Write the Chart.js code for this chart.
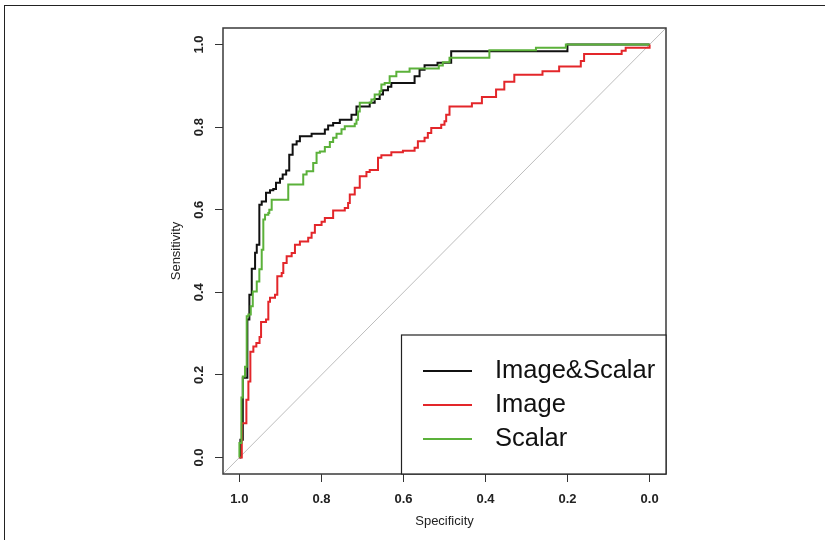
<!DOCTYPE html>
<html>
<head>
<meta charset="utf-8">
<script src="https://cdn.jsdelivr.net/npm/chart.js@4.4.1/dist/chart.umd.min.js"></script>
<style>
  html, body { margin: 0; padding: 0; background: #fff; }
  #frame { position: absolute; left: 4px; top: 5px; width: 830px; height: 545px;
           border-left: 1.5px solid #222; border-top: 1.5px solid #222; }
  #wrap { position: absolute; left: 0; top: 0; width: 825px; height: 540px; }
</style>
</head>
<body>
<div id="frame"></div>
<div id="wrap"><canvas id="roc" width="825" height="540"></canvas></div>
<script>
// ROC curves: specificity (x, reversed) vs sensitivity (y)
const seriesNames = ['Image&Scalar', 'Image', 'Scalar']
const seriesColors = ['#111111', '#e3262a', '#5bb13a']

const specBoth = [1.0, 0.9976, 0.9917, 0.9806, 0.9757, 0.9699, 0.9618, 0.9577, 0.9514, 0.9456,
  0.9351, 0.9254, 0.9174, 0.9108, 0.9011, 0.8945, 0.8860, 0.8785, 0.8702, 0.8605,
  0.8525, 0.8240, 0.7917, 0.7837, 0.7715, 0.7552, 0.7268, 0.7146, 0.6823, 0.6702,
  0.6580, 0.6500, 0.6378, 0.6296, 0.5729, 0.5608, 0.5486, 0.5170, 0.4837, 0.2003, 0]
const sensBoth = [0, 0.043, 0.193, 0.334, 0.394, 0.457, 0.496, 0.515, 0.612, 0.620,
  0.641, 0.647, 0.650, 0.665, 0.675, 0.685, 0.695, 0.733, 0.758, 0.766,
  0.778, 0.784, 0.794, 0.804, 0.810, 0.818, 0.830, 0.850, 0.859, 0.868,
  0.879, 0.889, 0.898, 0.907, 0.923, 0.939, 0.950, 0.956, 0.984, 1.0, 1.0]

const specImage = [1.0, 0.9942, 0.9830, 0.9781, 0.9733, 0.9660, 0.9587, 0.9509, 0.9472, 0.9351,
  0.9295, 0.9254, 0.9132, 0.9076, 0.8969, 0.8930, 0.8848, 0.8726, 0.8646, 0.8525,
  0.8323, 0.8240, 0.8160, 0.7997, 0.7917, 0.7715, 0.7431, 0.7350, 0.7309, 0.7188,
  0.7066, 0.6903, 0.6823, 0.6621, 0.6539, 0.6296, 0.6014, 0.5729, 0.5649, 0.5486,
  0.5406, 0.5323, 0.5080, 0.5000, 0.4959, 0.4878, 0.4332, 0.4088, 0.3743, 0.3542,
  0.3298, 0.2611, 0.2205, 0.1677, 0.1597, 0.0681, 0.0583, 0]
const sensImage = [0, 0.083, 0.140, 0.184, 0.256, 0.269, 0.277, 0.292, 0.328, 0.334,
  0.377, 0.387, 0.394, 0.439, 0.447, 0.471, 0.487, 0.495, 0.515, 0.523,
  0.532, 0.544, 0.563, 0.571, 0.580, 0.598, 0.604, 0.616, 0.637, 0.653,
  0.681, 0.691, 0.696, 0.726, 0.732, 0.739, 0.743, 0.750, 0.766, 0.774,
  0.786, 0.798, 0.806, 0.814, 0.830, 0.850, 0.858, 0.873, 0.891, 0.910,
  0.927, 0.935, 0.947, 0.960, 0.977, 0.985, 0.992, 1.0]

const specScalar = [1.0, 1.0, 0.9951, 0.9917, 0.9863, 0.9822, 0.9781, 0.9723, 0.9674, 0.9577,
  0.9514, 0.9456, 0.9417, 0.9375, 0.9295, 0.9271, 0.9213, 0.8809, 0.8444, 0.8362,
  0.8201, 0.8119, 0.8038, 0.7917, 0.7795, 0.7715, 0.7632, 0.7511, 0.7431, 0.7188,
  0.7146, 0.7107, 0.7066, 0.6782, 0.6702, 0.6580, 0.6539, 0.6458, 0.6337, 0.6174,
  0.5851, 0.5139, 0.5041, 0.4878, 0.3906, 0.2771, 0.2042, 0]
const sensScalar = [0, 0.035, 0.145, 0.196, 0.220, 0.342, 0.346, 0.366, 0.402, 0.426,
  0.456, 0.503, 0.576, 0.588, 0.592, 0.600, 0.624, 0.661, 0.685, 0.693,
  0.713, 0.738, 0.741, 0.752, 0.764, 0.774, 0.784, 0.795, 0.802, 0.808,
  0.818, 0.838, 0.859, 0.867, 0.879, 0.887, 0.903, 0.907, 0.923, 0.934,
  0.942, 0.949, 0.957, 0.968, 0.986, 0.992, 1.0, 1.0]

const tickValues = [0, 0.2, 0.4, 0.6, 0.8, 1.0]
const axisMin = -0.04, axisMax = 1.04

const toPoints = (xs, ys) => xs.map((x, i) => ({ x: x, y: ys[i] }))
const fixTicks = axis => { axis.ticks = tickValues.map(v => ({ value: v })) }
const FONT = 'Liberation Sans, Arial, Helvetica, sans-serif'

const curve = (i, xs, ys, order) => ({
  label: seriesNames[i],
  data: toPoints(xs, ys),
  borderColor: seriesColors[i],
  borderWidth: 2,
  stepped: 'before',
  showLine: true,
  pointRadius: 0,
  order: order
})

// box round the plot region + legend in the lower right corner
const rPlot = {
  id: 'rPlot',
  afterDatasetsDraw(chart) {
    const { ctx, chartArea: a } = chart
    ctx.save()
    ctx.strokeStyle = '#3a3a3a'
    ctx.lineWidth = 1.5
    ctx.strokeRect(a.left, a.top, a.right - a.left, a.bottom - a.top)

    const lx = 401.5, ly = 335
    ctx.fillStyle = '#fff'
    ctx.fillRect(lx, ly, a.right - lx, a.bottom - ly)
    ctx.lineWidth = 1.2
    ctx.strokeStyle = '#222'
    ctx.strokeRect(lx, ly, a.right - lx, a.bottom - ly)
    ctx.font = '25.5px ' + FONT
    ctx.textBaseline = 'middle'
    ctx.textAlign = 'left'
    seriesNames.forEach((name, i) => {
      const y = 371 + i * 34
      ctx.strokeStyle = seriesColors[i]
      ctx.lineWidth = 2
      ctx.beginPath()
      ctx.moveTo(423, y)
      ctx.lineTo(472, y)
      ctx.stroke()
      ctx.fillStyle = '#111'
      ctx.fillText(name, 495, y)
    })
    ctx.restore()
  }
}

new Chart(document.getElementById('roc'), {
  type: 'scatter',
  data: {
    datasets: [
      {
        label: 'chance',
        data: [{ x: axisMax, y: 1 - axisMax }, { x: axisMin, y: 1 - axisMin }],
        borderColor: '#bdbdbd',
        borderWidth: 1,
        showLine: true,
        pointRadius: 0,
        order: 4
      },
      curve(0, specBoth, sensBoth, 3),
      curve(1, specImage, sensImage, 2),
      curve(2, specScalar, sensScalar, 1)
    ]
  },
  options: {
    responsive: false,
    animation: false,
    layout: { padding: { left: 0, right: 159, top: 28, bottom: 0 } },
    plugins: { legend: { display: false }, tooltip: { enabled: false } },
    scales: {
      x: {
        type: 'linear',
        reverse: true,
        min: axisMin,
        max: axisMax,
        afterBuildTicks: fixTicks,
        afterFit: axis => { axis.height = 66 },
        border: { display: false },
        grid: { drawOnChartArea: false, drawTicks: true, tickLength: 8, color: '#333' },
        ticks: {
          autoSkip: false, maxRotation: 0, padding: 10, color: '#222',
          font: { family: FONT, size: 13, weight: 'bold' },
          callback: v => v.toFixed(1)
        },
        title: {
          display: true, text: 'Specificity', color: '#222',
          font: { family: FONT, size: 13 },
          padding: { top: 0, bottom: 10.5 }
        }
      },
      y: {
        type: 'linear',
        min: axisMin,
        max: axisMax,
        afterBuildTicks: fixTicks,
        afterFit: axis => { axis.width = 223 },
        border: { display: false },
        grid: { drawOnChartArea: false, drawTicks: true, tickLength: 8, color: '#333' },
        ticks: {
          autoSkip: false, minRotation: 90, maxRotation: 90, crossAlign: 'center',
          padding: 6.5, color: '#222',
          font: { family: FONT, size: 13, weight: 'bold' },
          callback: v => v.toFixed(1)
        },
        title: {
          display: true, text: 'Sensitivity', color: '#222',
          font: { family: FONT, size: 13 },
          padding: { top: 169, bottom: 0 }
        }
      }
    }
  },
  plugins: [rPlot]
})
</script>
</body>
</html>
